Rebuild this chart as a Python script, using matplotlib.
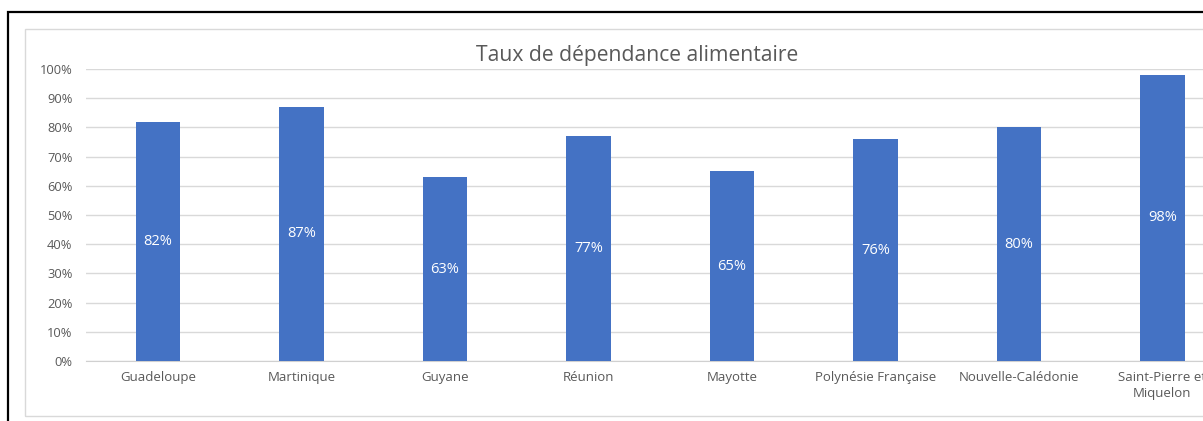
import matplotlib
matplotlib.use("Agg")
import matplotlib.pyplot as plt
from matplotlib.patches import Rectangle
from matplotlib.ticker import PercentFormatter

categories = ["Guadeloupe", "Martinique", "Guyane", "Réunion", "Mayotte",
              "Polynésie Française", "Nouvelle-Calédonie", "Saint-Pierre et\nMiquelon"]
values = [82, 87, 63, 77, 65, 76, 80, 98]
title = "Taux de dépendance alimentaire"

plt.rcParams['font.family'] = ['Open Sans', 'DejaVu Sans']

W, H = 1203, 421
fig = plt.figure(figsize=(W / 100, H / 100), dpi=100)
fig.patch.set_facecolor("white")

# outer black frame and inner light chart frame
fig.add_artist(Rectangle((8 / W, -0.2), 1.5, 1 - 12 / H + 0.2, transform=fig.transFigure,
                         fill=False, edgecolor="black", linewidth=1.6))
fig.add_artist(Rectangle((25 / W, 5 / H), 1.5, (416 - 29) / H, transform=fig.transFigure,
                         fill=False, edgecolor="#D9D9D9", linewidth=1.0))

left, right = 86.25 / W, 1234 / W
bottom, top = (H - 361) / H, (H - 69) / H
ax = fig.add_axes([left, bottom, right - left, top - bottom])

x = range(len(categories))
bars = ax.bar(x, values, width=0.31, color="#4472C4", zorder=3)
for b, v in zip(bars, values):
    ax.text(b.get_x() + b.get_width() / 2, v / 2, f"{v}%", ha="center", va="center",
            color="white", fontsize=10.5, zorder=4)

ax.set_xlim(-0.5, len(categories) - 0.5)
ax.set_ylim(0, 100)
ax.set_yticks(range(0, 101, 10))
ax.yaxis.set_major_formatter(PercentFormatter(100, decimals=0))
ax.set_xticks(list(x))
ax.set_xticklabels(categories, fontsize=9.5, color="#595959", linespacing=1.3)
ax.tick_params(axis="y", labelsize=9.3, labelcolor="#595959", length=0, pad=10)
ax.tick_params(axis="x", length=0, pad=7)
ax.grid(axis="y", color="#D9D9D9", linewidth=1.0, zorder=0)
for s in ["top", "right", "left"]:
    ax.spines[s].set_visible(False)
ax.spines["bottom"].set_color("#D0D0D0")
ax.spines["bottom"].set_zorder(2)

fig.text(637 / W, 1 - 55 / H, title, ha="center", va="center", fontsize=15.2, color="#595959")

fig.savefig("out.png", dpi=100)
